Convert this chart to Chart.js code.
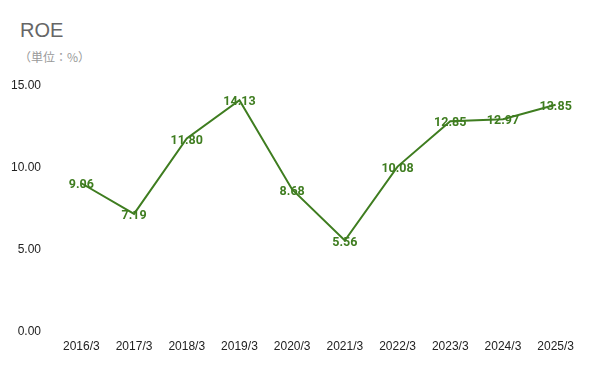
<!DOCTYPE html>
<html>
<head>
<meta charset="utf-8">
<script src="https://cdn.jsdelivr.net/npm/chart.js@4"></script>
<style>
  html, body { margin: 0; padding: 0; background: #fff; }
  #wrap { position: relative; width: 600px; height: 371px; }
  #title { position: absolute; left: 20px; top: 19px; font: 20px "Liberation Sans", Arial, sans-serif; color: #666; }
  #unit { position: absolute; left: 19px; top: 48px; font: 12px "Noto Sans CJK JP", sans-serif; color: #999; }
  canvas { position: absolute; left: 0; top: 0; }
</style>
</head>
<body>
<div id="wrap">
  <div id="title">ROE</div>
  <div id="unit">（単位：%）</div>
  <canvas id="chart" width="600" height="371"></canvas>
</div>
<script>
"use strict";

// Fiscal years (March year-end)
const years = ["2016/3", "2017/3", "2018/3", "2019/3", "2020/3", "2021/3", "2022/3", "2023/3", "2024/3", "2025/3"];
// ROE in percent
const roe = [9.06, 7.19, 11.80, 14.13, 8.68, 5.56, 10.08, 12.85, 12.97, 13.85];
const yTicks = [0, 5, 10, 15];

const green = "#3f7d20";

// Value labels centred on each point, drawn over the line
const valueLabels = {
    id: "valueLabels",
    afterDatasetsDraw(chart) {
        const ctx = chart.ctx;
        const meta = chart.getDatasetMeta(0);
        ctx.save();
        ctx.font = "bold 12.5px Roboto, sans-serif";
        ctx.fillStyle = green;
        ctx.textAlign = "center";
        ctx.textBaseline = "middle";
        meta.data.forEach((pt, i) => {
            ctx.fillText(roe[i].toFixed(2), pt.x, pt.y + 2);
        });
        ctx.restore();
    }
};

new Chart(document.getElementById("chart"), {
    type: "line",
    data: {
        labels: years,
        datasets: [{
            data: roe,
            borderColor: green,
            borderWidth: 2,
            pointRadius: 0,
            tension: 0,
            fill: false
        }]
    },
    options: {
        responsive: false,
        animation: false,
        layout: { padding: { top: 86, right: 18, bottom: 17, left: 0 } },
        plugins: {
            legend: { display: false },
            tooltip: { enabled: false }
        },
        scales: {
            x: {
                offset: true,
                grid: { display: false },
                border: { display: false },
                ticks: { color: "#222", font: { family: "Liberation Sans", size: 12 }, maxRotation: 0, padding: 0 }
            },
            y: {
                min: 0,
                max: 15,
                afterBuildTicks: axis => { axis.ticks = yTicks.map(v => ({ value: v })); },
                afterFit: axis => { axis.width = 55; },
                grid: { display: false },
                border: { display: false },
                ticks: {
                    color: "#222",
                    font: { family: "Liberation Sans", size: 12 },
                    padding: 6,
                    callback: v => Number(v).toFixed(2)
                }
            }
        }
    },
    plugins: [valueLabels]
});
</script>
</body>
</html>
